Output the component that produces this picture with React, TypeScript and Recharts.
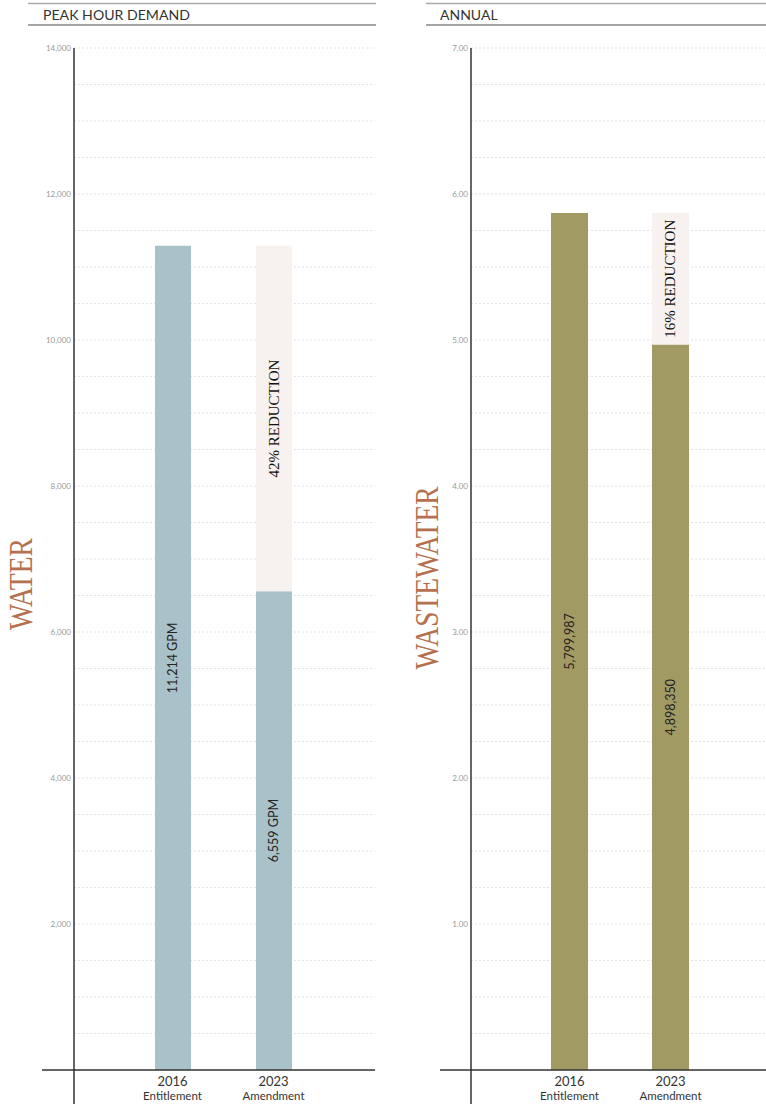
import React from 'react';
import { BarChart, Bar, XAxis, YAxis, CartesianGrid, LabelList } from 'recharts';

// categories shared by both panels
const categories = ['2016', '2023'];
const categorySubs = ['Entitlement', 'Amendment'];

// water – peak hour demand (GPM)
const waterBaseline = [11290, 11290];
const waterValues = [11290, 6559];
const waterLabels = ['11,214 GPM', '6,559 GPM'];
const waterReductionLabels = ['', '42% REDUCTION'];
const waterGridTicks = [
  0, 500, 1000, 1500, 2000, 2500, 3000, 3500, 4000, 4500, 5000, 5500, 6000, 6500, 7000,
  7500, 8000, 8500, 9000, 9500, 10000, 10500, 11000, 11500, 12000, 12500, 13000, 13500, 14000,
];
const waterTickLabels = [2000, 4000, 6000, 8000, 10000, 12000, 14000];

// wastewater – annual (millions of gallons)
const wasteBaseline = [5.87, 5.87];
const wasteValues = [5.87, 4.97];
const wasteLabels = ['5,799,987', '4,898,350'];
const wasteReductionLabels = ['', '16% REDUCTION'];
const wasteGridTicks = [
  0, 0.25, 0.5, 0.75, 1, 1.25, 1.5, 1.75, 2, 2.25, 2.5, 2.75, 3, 3.25, 3.5, 3.75, 4,
  4.25, 4.5, 4.75, 5, 5.25, 5.5, 5.75, 6, 6.25, 6.5, 6.75, 7,
];
const wasteTickLabels = [1, 2, 3, 4, 5, 6, 7];

const SANS = 'Lato, "Open Sans", sans-serif';
const SERIF = '"Liberation Serif", "DejaVu Serif", serif';

const buildData = (base: number[], vals: number[], labels: string[], red: string[]) =>
  categories.map((c, i) => ({
    name: c,
    sub: categorySubs[i],
    value: vals[i],
    reduction: base[i] - vals[i],
    label: labels[i],
    redLabel: red[i],
  }));

const waterData = buildData(waterBaseline, waterValues, waterLabels, waterReductionLabels);
const wasteData = buildData(wasteBaseline, wasteValues, wasteLabels, wasteReductionLabels);

const verticalLabel = (family: string, size: number, color: string) => (props: any) => {
  const { x, y, width, height, value } = props;
  if (!value) return <g />;
  const cx = Number(x) + Number(width) / 2;
  const cy = Number(y) + Number(height) / 2;
  return (
    <text
      x={cx}
      y={cy}
      transform={`rotate(-90 ${cx} ${cy})`}
      textAnchor="middle"
      dominantBaseline="central"
      fontFamily={family}
      fontSize={size}
      fill={color}
    >
      {value}
    </text>
  );
};

const XTick = (props: any) => {
  const { x, y, payload } = props;
  const idx = categories.indexOf(payload.value);
  return (
    <g>
      <text x={x} y={y + 14} textAnchor="middle" fontFamily={SANS} fontSize={13} fill="#333">
        {payload.value}
      </text>
      <text x={x} y={y + 28} textAnchor="middle" fontFamily={SANS} fontSize={11.5} fill="#333">
        {categorySubs[idx]}
      </text>
    </g>
  );
};

interface PanelProps {
  data: any[];
  color: string;
  max: number;
  gridTicks: number[];
  tickLabels: number[];
  fmt: (v: number) => string;
  yWidth: number;
  right: number;
  left: number;
  barSize: number;
  padRight: number;
}

function Panel({ data, color, max, gridTicks, tickLabels, fmt, yWidth, right, left, barSize, padRight }: PanelProps) {
  const YTick = (props: any) => {
    const { x, y, payload } = props;
    if (!tickLabels.includes(payload.value)) return <g />;
    return (
      <text x={x} y={y} dy={3} textAnchor="end" fontFamily={SANS} fontSize={8} fill="#999">
        {fmt(payload.value)}
      </text>
    );
  };
  return (
    <div style={{ position: 'absolute', left, top: 0 }}>
      <BarChart
        width={383}
        height={1104}
        data={data}
        margin={{ top: 48, right, bottom: 0, left: 0 }}
      >
        <CartesianGrid vertical={false} stroke="#e2e2e2" strokeDasharray="2 2" />
        <XAxis
          dataKey="name"
          height={34}
          axisLine={{ stroke: '#333', strokeWidth: 1.5 }}
          tickLine={false}
          tickSize={0}
          tick={<XTick />}
          padding={{ left: 48, right: padRight }}
          interval={0}
        />
        <YAxis
          width={yWidth}
          domain={[0, max]}
          ticks={gridTicks}
          interval={0}
          axisLine={{ stroke: '#333', strokeWidth: 1.5 }}
          tickLine={false}
          tickSize={0}
          tickMargin={3}
          tick={<YTick />}
        />
        <Bar dataKey="value" stackId="a" fill={color} barSize={barSize} isAnimationActive={false}>
          <LabelList dataKey="label" content={verticalLabel(SANS, 12.5, '#222')} />
        </Bar>
        <Bar dataKey="reduction" stackId="a" fill="#f7f1ef" barSize={barSize} isAnimationActive={false}>
          <LabelList dataKey="redLabel" content={verticalLabel(SERIF, 15, '#111')} />
        </Bar>
      </BarChart>
    </div>
  );
}

export default function App() {
  return (
    <div
      style={{
        position: 'absolute',
        left: 0,
        top: 0,
        width: 766,
        height: 1104,
        overflow: 'hidden',
        background: '#fff',
      }}
    >
      <Panel
        data={waterData}
        color="#a9c1c8"
        max={14000}
        gridTicks={waterGridTicks}
        tickLabels={waterTickLabels}
        fmt={(v) => v.toLocaleString('en-US')}
        yWidth={74}
        right={8}
        left={0}
        barSize={36}
        padRight={51}
      />
      <Panel
        data={wasteData}
        color="#a29a63"
        max={7}
        gridTicks={wasteGridTicks}
        tickLabels={wasteTickLabels}
        fmt={(v) => v.toFixed(2)}
        yWidth={88}
        right={0}
        left={383}
        barSize={37}
        padRight={45}
      />
      <svg
        width={766}
        height={1104}
        style={{ position: 'absolute', left: 0, top: 0, pointerEvents: 'none' }}
      >
        {/* header rules */}
        <line x1={28} x2={376} y1={3.5} y2={3.5} stroke="#aaa" strokeWidth={1.5} />
        <line x1={28} x2={376} y1={25} y2={25} stroke="#888" strokeWidth={1.5} />
        <line x1={426} x2={766} y1={3.5} y2={3.5} stroke="#aaa" strokeWidth={1.5} />
        <line x1={426} x2={766} y1={25} y2={25} stroke="#888" strokeWidth={1.5} />
        <text x={43} y={20} fontFamily={SANS} fontSize={14} fill="#333" textLength={147} lengthAdjust="spacingAndGlyphs">
          PEAK HOUR DEMAND
        </text>
        <text x={440} y={20} fontFamily={SANS} fontSize={14} fill="#333">ANNUAL</text>

        {/* axis extensions */}
        <line x1={74} x2={74} y1={1069} y2={1104} stroke="#333" strokeWidth={1.5} />
        <line x1={42} x2={75} y1={1070} y2={1070} stroke="#333" strokeWidth={1.5} />
        <line x1={471} x2={471} y1={1069} y2={1104} stroke="#333" strokeWidth={1.5} />
        <line x1={440} x2={472} y1={1070} y2={1070} stroke="#333" strokeWidth={1.5} />

        {/* side titles */}
        <text
          transform="translate(32,584) rotate(-90)"
          textAnchor="middle"
          fontFamily={SERIF}
          fontSize={33}
          fill="#b5714f"
          textLength={92}
          lengthAdjust="spacingAndGlyphs"
        >
          WATER
        </text>
        <text
          transform="translate(438,578) rotate(-90)"
          textAnchor="middle"
          fontFamily={SERIF}
          fontSize={33}
          fill="#b5714f"
          textLength={183}
          lengthAdjust="spacingAndGlyphs"
        >
          WASTEWATER
        </text>
      </svg>
    </div>
  );
}
